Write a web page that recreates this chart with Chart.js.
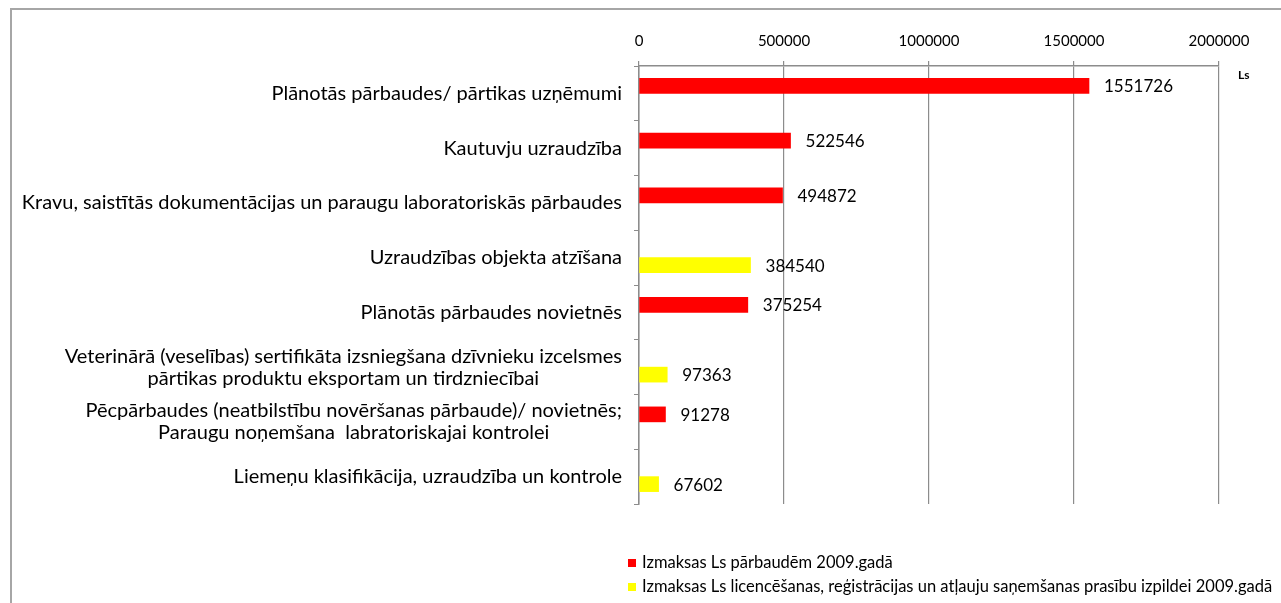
<!DOCTYPE html>
<html>
<head>
<meta charset="utf-8">
<script src="https://cdn.jsdelivr.net/npm/chart.js@4/dist/chart.umd.min.js"></script>
<style>
  html, body { margin:0; padding:0; background:#fff; }
  #wrap { position:relative; width:1281px; height:603px; overflow:hidden; }
  #frame { position:absolute; left:10px; top:8px; width:1300px; height:700px; border-top:2px solid #a6a6a6; border-left:2px solid #a6a6a6; box-sizing:border-box; }
  canvas { position:absolute; left:0; top:0; }
</style>
</head>
<body>
<div id="wrap">
  <div id="frame"></div>
  <canvas id="c" width="1281" height="603"></canvas>
</div>
<script>
// ---- data ----
const categories = [
  'Plānotās pārbaudes/ pārtikas uzņēmumi',
  'Kautuvju uzraudzība',
  'Kravu, saistītās dokumentācijas un paraugu laboratoriskās pārbaudes',
  'Uzraudzības objekta atzīšana',
  'Plānotās pārbaudes novietnēs',
  ['Veterinārā (veselības) sertifikāta izsniegšana dzīvnieku izcelsmes', 'pārtikas produktu eksportam un tirdzniecībai'],
  ['Pēcpārbaudes (neatbilstību novēršanas pārbaude)/ novietnēs;', 'Paraugu noņemšana  labratoriskajai kontrolei'],
  'Liemeņu klasifikācija, uzraudzība un kontrole'
];
const seriesNames = [
  'Izmaksas Ls pārbaudēm 2009.gadā',
  'Izmaksas Ls licencēšanas, reģistrācijas un atļauju saņemšanas prasību izpildei 2009.gadā'
];
const inspectionCosts = [1551726, 522546, 494872, null, 375254, null, 91278, null];
const licensingCosts  = [null, null, null, 384540, null, 97363, null, 67602];
const xTicks = [0, 500000, 1000000, 1500000, 2000000];
const unitLabel = 'Ls';

const seriesColors = ['#ff0000', '#ffff00'];
const FONT = 'Lato, "DejaVu Sans", sans-serif';
const gridColor = '#8c8c8c';

const labelsPlugin = {
  id: 'customLabels',
  afterDatasetsDraw(chart) {
    const ctx = chart.ctx;
    ctx.save();
    ctx.fillStyle = '#000';
    ctx.font = '17px ' + FONT;
    ctx.textAlign = 'left';
    ctx.textBaseline = 'middle';
    chart.data.datasets.forEach((ds, di) => {
      const meta = chart.getDatasetMeta(di);
      meta.data.forEach((el, i) => {
        const v = ds.data[i];
        if (v === null || v === undefined) return;
        ctx.fillText(String(v), el.x + 15, el.y + 1);
      });
    });
    ctx.restore();
  },
  afterDraw(chart) {
    const ctx = chart.ctx;
    const ys = chart.scales.y;
    const xs = chart.scales.x;
    ctx.save();
    ctx.fillStyle = '#000';
    // category labels
    ctx.font = '20px ' + FONT;
    ctx.textBaseline = 'middle';
    ctx.textAlign = 'center';
    const right = ys.right - 17;
    const lh = 22;
    chart.data.labels.forEach((lab, i) => {
      const lines = Array.isArray(lab) ? lab : [lab];
      const y = ys.getPixelForValue(i);
      const maxW = Math.max(...lines.map(l => ctx.measureText(l).width));
      const cx = right - maxW / 2;
      lines.forEach((l, j) => {
        ctx.fillText(l, cx, y + (j - (lines.length - 1) / 2) * lh);
      });
    });
    // unit label
    ctx.font = 'bold 12px ' + FONT;
    ctx.textAlign = 'left';
    ctx.fillText(unitLabel, xs.right + 19, xs.bottom + 9);
    // legend
    ctx.font = '16.5px ' + FONT;
    chart.data.datasets.forEach((ds, di) => {
      const y = 563 + di * 24;
      ctx.fillStyle = ds.backgroundColor;
      ctx.fillRect(628, y - 4, 8, 8);
      ctx.fillStyle = '#000';
      ctx.fillText(ds.label, 642, y);
    });
    ctx.restore();
  }
};

new Chart(document.getElementById('c'), {
  type: 'bar',
  data: {
    labels: categories,
    datasets: [
      { label: seriesNames[0], data: inspectionCosts, backgroundColor: seriesColors[0], barThickness: 15 },
      { label: seriesNames[1], data: licensingCosts, backgroundColor: seriesColors[1], barThickness: 15 }
    ]
  },
  plugins: [labelsPlugin],
  options: {
    indexAxis: 'y',
    responsive: false,
    animation: false,
    layout: { padding: { left: 0, right: 62, top: 0, bottom: 99 } },
    plugins: { legend: { display: false }, tooltip: { enabled: false } },
    scales: {
      x: {
        position: 'top',
        min: xTicks[0],
        max: xTicks[xTicks.length - 1],
        afterBuildTicks(s) { s.ticks = xTicks.map(v => ({ value: v })); },
        ticks: { color: '#000', font: { family: FONT, size: 15 }, padding: 11, maxRotation: 0, callback: v => String(v) },
        grid: { color: gridColor, tickLength: 5, lineWidth: 1.2 },
        border: { color: gridColor, width: 1.5 },
        afterFit(s) { s.height = 66; }
      },
      y: {
        ticks: { display: false },
        grid: { drawOnChartArea: false, tickLength: 5, color: gridColor, offset: true },
        border: { color: gridColor, width: 1.5 },
        afterFit(s) { s.width = 639; }
      }
    }
  }
});
</script>
</body>
</html>
